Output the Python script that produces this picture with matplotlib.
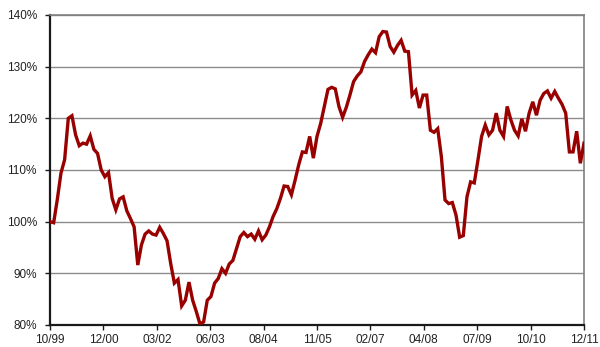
import matplotlib
matplotlib.use("Agg")
import matplotlib.pyplot as plt
from matplotlib.ticker import FuncFormatter

# monthly index level, 10/99 = 100%
values = [
    100, 99.8, 104.3, 109.4, 112, 120, 120.5, 116.8, 114.7, 115.2,
    115, 116.6, 114, 113.2, 110, 108.7, 109.5, 104.5, 102.3, 104.4,
    104.8, 102.1, 100.6, 99, 91.6, 95.5, 97.6, 98.2, 97.6, 97.4,
    98.9, 97.7, 96.3, 91.9, 88.1, 88.8, 83.7, 84.8, 88.3, 84.8,
    82.6, 80.2, 80.6, 84.8, 85.5, 88.1, 89, 90.9, 90, 91.8,
    92.5, 94.8, 97.1, 97.9, 97.1, 97.6, 96.6, 98.2, 96.5, 97.4,
    99, 101, 102.5, 104.5, 106.9, 106.8, 105.2, 108, 111, 113.5,
    113.4, 116.5, 112.3, 116.5, 119, 122.3, 125.6, 126, 125.7, 122.3,
    120.2, 122.1, 124.5, 127.1, 128.2, 129, 131, 132.3, 133.4, 132.7,
    135.8, 136.8, 136.7, 133.9, 132.8, 134.1, 135.1, 133, 132.9, 124.5,
    125.4, 122, 124.5, 124.5, 117.7, 117.3, 118, 112.6, 104.2, 103.5,
    103.7, 101.3, 97, 97.3, 104.8, 107.7, 107.5, 111.9, 116.5, 118.7,
    116.8, 117.7, 121, 117.7, 116.5, 122.3, 119.7, 117.7, 116.6, 119.9,
    117.5, 121, 123.2, 120.6, 123.5, 124.8, 125.3, 123.9, 125.2, 123.9,
    122.7, 121, 113.5, 113.5, 117.5, 111.3, 115.2,
]
tick_labels = ["10/99", "12/00", "03/02", "06/03", "08/04", "11/05",
               "02/07", "04/08", "07/09", "10/10", "12/11"]
y_ticks = [80, 90, 100, 110, 120, 130, 140]

months = list(range(len(values)))
n = len(values) - 1

fig = plt.figure(figsize=(6, 3.47), dpi=100)
ax = fig.add_axes([50 / 600, 1 - 325 / 347, 534 / 600, 310 / 347])

ax.plot(months, values, color="#990000", lw=2.4, solid_joinstyle="miter", zorder=3)

ax.set_xlim(0, n)
ax.set_ylim(80, 140)
ax.set_yticks(y_ticks)
ax.yaxis.set_major_formatter(FuncFormatter(lambda v, p: f"{v:.0f}%"))
ax.set_xticks([n * k / (len(tick_labels) - 1) for k in range(len(tick_labels))])
ax.set_xticklabels(tick_labels)

ax.grid(axis="y", color="#8c8c8c", lw=1)
ax.set_axisbelow(True)

for side in ["top", "right"]:
    ax.spines[side].set_color("#808080")
    ax.spines[side].set_linewidth(1.2)
for side in ["left", "bottom"]:
    ax.spines[side].set_color("#1a1a1a")
    ax.spines[side].set_linewidth(1.6)

ax.tick_params(axis="both", direction="out", length=3.5, width=1, color="#1a1a1a",
               labelsize=8.5, labelcolor="#222222")
ax.tick_params(axis="y", pad=6)
ax.tick_params(axis="x", pad=3)
for lab in ax.get_xticklabels() + ax.get_yticklabels():
    lab.set_family("Liberation Sans")

fig.savefig("out.png", dpi=100)
